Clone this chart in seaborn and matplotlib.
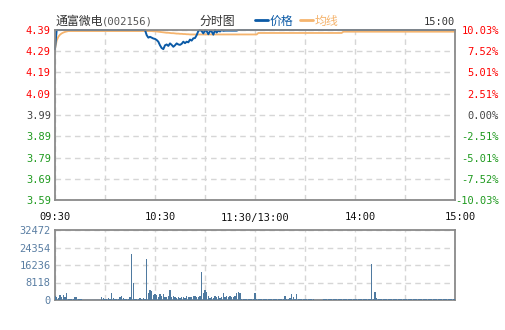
import numpy as np
import pandas as pd
import matplotlib
matplotlib.use("Agg")
import matplotlib.pyplot as plt
import matplotlib.transforms as mtransforms
import seaborn as sns

# ---------------- data ----------------
prev_close = 3.99
price_ticks = [3.59, 3.69, 3.79, 3.89, 3.99, 4.09, 4.19, 4.29, 4.39]
pct_labels = ["-10.03%", "-7.52%", "-5.01%", "-2.51%", "0.00%", "2.51%", "5.01%", "7.52%", "10.03%"]
time_labels = ["09:30", "10:30", "11:30/13:00", "14:00", "15:00"]
time_label_minutes = [0, 60, 120, 180, 240]
vol_ticks = [0, 8118, 16236, 24354, 32472]

price = ([4.30] + [4.39] * 54 +
         [4.366, 4.354, 4.358, 4.354, 4.350, 4.348, 4.343, 4.335, 4.318, 4.305,
          4.300, 4.318, 4.322, 4.315, 4.327, 4.320, 4.311, 4.318, 4.327, 4.322,
          4.320, 4.325, 4.335, 4.328, 4.335, 4.332, 4.345, 4.340, 4.351, 4.352,
          4.366, 4.385, 4.390, 4.385, 4.374, 4.388, 4.385, 4.370, 4.385, 4.383,
          4.368, 4.390, 4.378, 4.387, 4.383, 4.390, 4.386, 4.387, 4.387, 4.387,
          4.387, 4.387, 4.387, 4.387, 4.387] +
         [4.39] * 131)

avg = ([4.30, 4.340, 4.358, 4.368, 4.374, 4.378, 4.381, 4.383] + [4.385] * 47 +
       [4.385, 4.385, 4.385, 4.385, 4.384, 4.384] +
       [4.383, 4.382, 4.381, 4.380, 4.379, 4.378, 4.377, 4.377, 4.376, 4.375, 4.375, 4.374] +
       [4.373, 4.373, 4.372, 4.372, 4.371, 4.371, 4.370, 4.370, 4.369, 4.369, 4.369, 4.369, 4.369, 4.369] +
       [4.369] * 35 + [4.376] * 51 + [4.382] * 68)

volume = ([1850, 1500, 900, 2100, 1250, 2100, 1250, 3100, 600, 450,
           450, 600, 1250, 1250, 450, 450, 450, 150] +
          [150] * 10 +
          [1250, 900, 600, 450, 750, 600, 3250, 750, 450, 600,
           300, 1500, 1850, 750, 600, 450, 300, 1500, 21300, 8000,
           600, 600, 600, 900, 600, 750, 600, 19000, 3250, 4600,
           4300, 2200, 2800, 2300, 1500, 2600, 1850, 2800, 1400, 1250,
           1700, 4600, 1250, 1850, 1400, 1050, 1500, 1050, 1400, 1500,
           1050, 1700, 1250, 1500, 1400, 1850, 1700, 1500, 1400, 1850,
           13000, 3400, 4600, 3900, 1850, 1050, 1400, 1050, 1850, 1500,
           1850, 1050, 1250, 3400, 1500, 1850, 1250, 2000, 1500, 1250,
           1700, 3400, 3700, 3400, 600, 450, 450, 300, 300, 300,
           300, 300, 3400, 450, 250, 450, 250, 250, 600, 600,
           600, 250, 250, 250, 250, 250, 450, 250, 250, 250,
           1850, 600, 300, 1050, 2800, 1500, 300, 2800, 300] +
          [250] * 9 + [0] * 5 +
          [250, 250, 600, 250, 250, 250, 250, 250, 250, 250,
           250, 250, 250, 250, 250, 250, 250, 250, 250, 250, 450] +
          [250] * 8 +
          [16700, 250, 3700, 900] +
          [250] * 14 + [450] + [250] * 32)

minutes = list(range(len(price)))
assert len(price) == len(avg) == len(volume) == 241

df = pd.DataFrame({"minute": minutes, "price": price, "avg": avg, "volume": volume})

# ---------------- style ----------------
sns.set_style("white")
plt.rcParams["font.family"] = ["DejaVu Sans Mono", "Noto Sans CJK SC"]

W, H = 505, 330
fig = plt.figure(figsize=(W / 100, H / 100), dpi=100)

def fx(px):
    return px / W

def fy(py):
    return 1 - py / H

ax = fig.add_axes([fx(55), fy(200), fx(400), 170 / H])
axv = fig.add_axes([fx(55), fy(300), fx(400), 70 / H])

BLUE = "#0b5aa6"
ORANGE = "#f5b46e"
VOLC = "#4f7aa0"
GRID = "#d6d6d6"
SPINE = "#8a8a8a"
RED = "#ff0000"
GREEN = "#1f9a1f"
DARK = "#444444"

# price panel
sns.lineplot(data=df, x="minute", y="avg", ax=ax, color=ORANGE, linewidth=1.3, clip_on=False)
sns.lineplot(data=df, x="minute", y="price", ax=ax, color=BLUE, linewidth=1.4, clip_on=False)
ax.set_xlim(0, 240)
ax.set_ylim(price_ticks[0], price_ticks[-1])
ax.set_xticks(list(range(0, 241, 30)))
ax.set_xticklabels([])
ax.set_yticks(price_ticks)
ax.set_yticklabels([f"{v:.2f}" for v in price_ticks])
ax.set_xlabel("")
ax.set_ylabel("")
ax.grid(True, color=GRID, linestyle=(0, (4, 3)), linewidth=1)
ax.tick_params(axis="both", length=0, pad=3, labelsize=7.5)
for v, lab in zip(price_ticks, ax.get_yticklabels()):
    lab.set_color(RED if v > prev_close + 1e-9 else (GREEN if v < prev_close - 1e-9 else DARK))
for s in ax.spines.values():
    s.set_color(SPINE)
    s.set_linewidth(1.3)

ax2 = ax.twinx()
ax2.set_ylim(price_ticks[0], price_ticks[-1])
ax2.set_yticks(price_ticks)
ax2.set_yticklabels(pct_labels)
ax2.tick_params(axis="y", length=0, pad=44 * 0.72, labelsize=7.5)
for v, lab in zip(price_ticks, ax2.get_yticklabels()):
    lab.set_horizontalalignment("right")
    lab.set_color(RED if v > prev_close + 1e-9 else (GREEN if v < prev_close - 1e-9 else DARK))
for s in ax2.spines.values():
    s.set_visible(False)

# time labels under price panel
trans = mtransforms.blended_transform_factory(ax.transData, fig.transFigure)
for i, (m, t) in enumerate(zip(time_label_minutes, time_labels)):
    off = 0 if i in (0, 2) else 5
    tr = trans + mtransforms.ScaledTranslation(off / 100, 0, fig.dpi_scale_trans)
    ax.text(m, fy(217.5), t, transform=tr, ha="center", va="center",
            fontsize=7.5, color="#111111")

# volume panel
sns.barplot(data=df, x="minute", y="volume", ax=axv, native_scale=True,
            color=VOLC, width=0.7, saturation=1, linewidth=0, antialiased=False,
            zorder=3)
axv.axhline(0, color=VOLC, linewidth=1.0, zorder=3)
axv.set_xlim(0, 240)
axv.set_ylim(0, vol_ticks[-1])
axv.set_xticks(list(range(0, 241, 30)))
axv.set_xticklabels([])
axv.set_yticks(vol_ticks)
axv.set_yticklabels([str(v) for v in vol_ticks])
axv.set_xlabel("")
axv.set_ylabel("")
axv.grid(True, color=GRID, linestyle=(0, (4, 3)), linewidth=1)
axv.set_axisbelow(True)
axv.tick_params(axis="both", length=0, pad=3, labelsize=7.5, labelcolor="#5a7ea3")
for s in axv.spines.values():
    s.set_color(SPINE)
    s.set_linewidth(1.3)
    s.set_zorder(2.5)

# header
cjk = ["Noto Sans CJK SC", "DejaVu Sans"]
fig.text(fx(55), fy(21), "通富微电", fontsize=8.6, family=cjk, color="#333333", ha="left", va="center")
fig.text(fx(102), fy(21), "(002156)", fontsize=7.6, family=["DejaVu Sans Mono"], color="#555555", ha="left", va="center")
fig.text(fx(200), fy(21), "分时图", fontsize=8.6, family=cjk, color="#333333", ha="left", va="center")
fig.lines.append(plt.Line2D([fx(255), fx(268)], [fy(20), fy(20)], transform=fig.transFigure, color=BLUE, linewidth=2))
fig.text(fx(270), fy(21), "价格", fontsize=8.6, family=cjk, color=BLUE, ha="left", va="center")
fig.lines.append(plt.Line2D([fx(300), fx(313)], [fy(20), fy(20)], transform=fig.transFigure, color=ORANGE, linewidth=2))
fig.text(fx(315), fy(21), "均线", fontsize=8.6, family=cjk, color=ORANGE, ha="left", va="center")
fig.text(fx(455), fy(22), "15:00", fontsize=7.5, color="#333333", ha="right", va="center")

fig.savefig("out.png", dpi=100, facecolor="white")
